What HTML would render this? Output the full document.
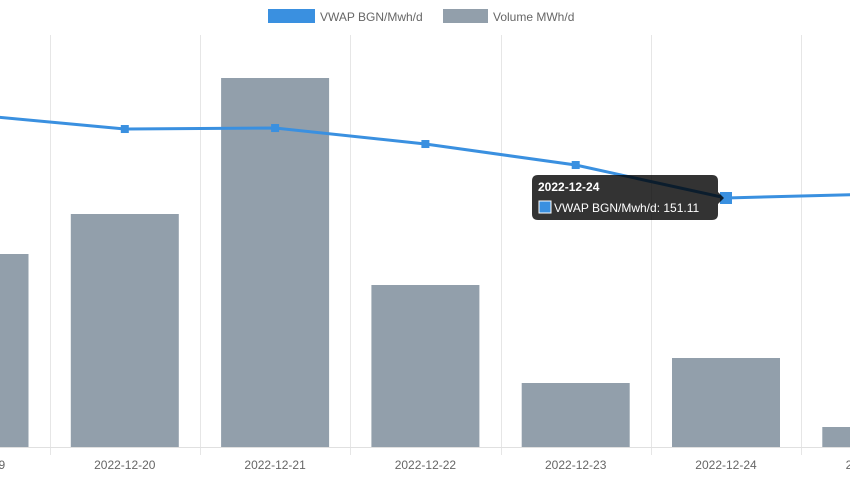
<!DOCTYPE html>
<html><head><meta charset="utf-8"><style>
body{margin:0;background:#fff;width:850px;height:480px;overflow:hidden;font-family:"Liberation Sans",sans-serif}
svg text{font-family:"Liberation Sans",sans-serif}
</style></head><body>
<svg id="chart" width="850" height="480">
<g id="grid"></g>
<g id="bars"></g>
<g id="line"></g>
<g id="xaxis"></g>
<g>
<g><rect x="268" y="9" width="47" height="14" fill="#3a90e0"/><text x="320" y="21" font-size="12" fill="#666">VWAP BGN/Mwh/d</text></g>
<g><rect x="443" y="9" width="45" height="14" fill="#929fab"/><text x="493" y="21" font-size="12" fill="#666">Volume MWh/d</text></g>
</g>
<g id="tooltip">
<path d="M538 175 H712 Q718 175 718 181 V192 L724 198 L718 204 V214 Q718 220 712 220 H538 Q532 220 532 214 V181 Q532 175 538 175 Z" fill="rgba(0,0,0,0.8)"/>
<text x="538" y="191" font-size="12" font-weight="bold" fill="#fff">2022-12-24</text>
<rect x="539" y="201" width="12" height="12" fill="#3a90e0" stroke="#fff" stroke-width="1"/>
<text x="554" y="212" font-size="12" fill="#fff">VWAP BGN/Mwh/d: 151.11</text>
</g>
</svg>
<script>
const categories=["2022-12-19","2022-12-20","2022-12-21","2022-12-22","2022-12-23","2022-12-24","2022-12-25"];
const vwapValues=[192.6,185.6,186.1,178.1,167.6,151.11,153.1];
const volumeValues=[19300,23300,36900,16200,6400,8900,2000];
const hoverIndex=5;
const NS="http://www.w3.org/2000/svg";
function mk(tag,attrs,parent){const e=document.createElementNS(NS,tag);for(const k in attrs)e.setAttribute(k,attrs[k]);parent.appendChild(e);return e;}
const step=150.3, x0=-25.5;
function xC(i){return x0+i*step;}
const baseY=447;
function yVol(v){return baseY-v/100;}
function yVwap(v){return 198-(v-151.11)*2;}
const grid=document.getElementById('grid'),bars=document.getElementById('bars'),line=document.getElementById('line'),xaxis=document.getElementById('xaxis');
for(let i=0;i<=categories.length;i++){
  const gx=Math.round(xC(i)-step/2)+0.5;
  const g=mk('line',{x1:gx,x2:gx,y1:35,y2:455,stroke:'#e6e6e6'},grid);
  
  
}
const ax=mk('line',{x1:0,x2:850,y1:baseY+0.5,y2:baseY+0.5,stroke:'#e0e0e0'},xaxis);


categories.forEach((c,i)=>{
  const t=mk('text',{x:xC(i),y:469,'font-size':12,fill:'#666','text-anchor':'middle'},xaxis);
  t.textContent=c;
  
  
});
volumeValues.forEach((v,i)=>{
  const y=yVol(v);
  const r=mk('rect',{x:xC(i)-54,y:y,width:108,height:baseY-y,fill:'#929fab'},bars);
  
  
});
const pts=vwapValues.map((v,i)=>[xC(i),yVwap(v)]);
const p=mk('polyline',{points:pts.map(q=>q.join(',')).join(' '),fill:'none',stroke:'#3a90e0','stroke-width':3},line);


pts.forEach((q,i)=>{
  const s=i===hoverIndex?12:8;
  const r=mk('rect',{x:q[0]-s/2,y:q[1]-s/2,width:s,height:s,fill:'#3a90e0'},line);
  
  
});
</script>
</body></html>
